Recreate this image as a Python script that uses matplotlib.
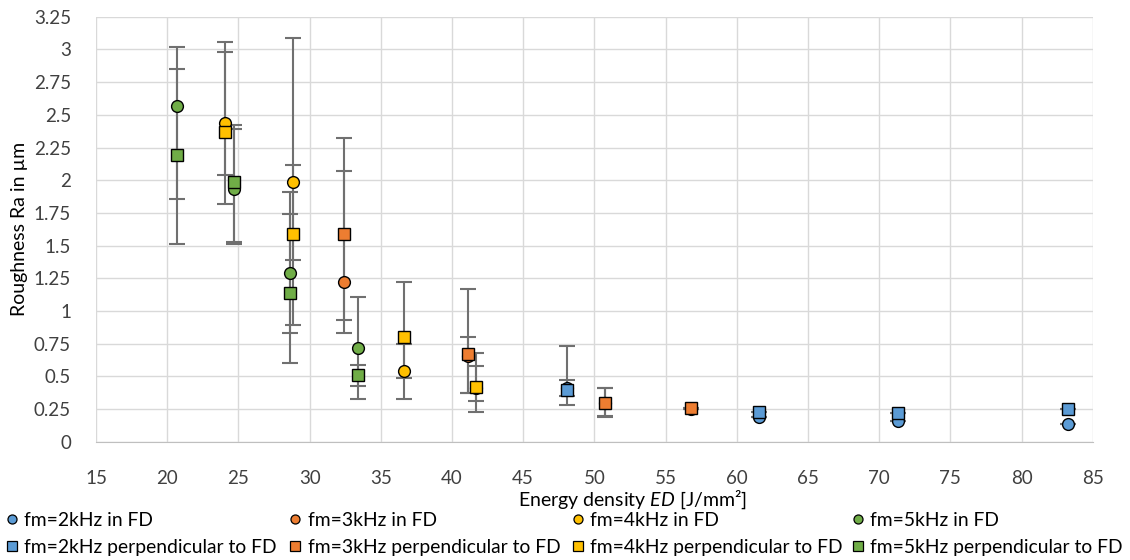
import numpy as np
from matplotlib import pyplot as plt
from matplotlib.lines import Line2D
from matplotlib.ticker import FuncFormatter, MultipleLocator

plt.rcParams["font.family"] = ["Lato", "DejaVu Sans"]
plt.rcParams["mathtext.fontset"] = "custom"
plt.rcParams["mathtext.it"] = "Lato:italic"
plt.rcParams["mathtext.rm"] = "Lato"

# x = energy density, y = Ra, lo/hi = ends of the error bars
x_2k = [48.06, 61.59, 71.3, 83.29]
y_2k_fd = [0.41, 0.19, 0.16, 0.14]
lo_2k_fd = [0.35, 0.19, 0.16, 0.14]
hi_2k_fd = [0.47, 0.19, 0.16, 0.14]
y_2k_perp = [0.40, 0.23, 0.22, 0.25]
lo_2k_perp = [0.28, 0.23, 0.22, 0.25]
hi_2k_perp = [0.73, 0.23, 0.22, 0.25]

x_3k = [32.44, 41.11, 50.77, 56.77]
y_3k_fd = [1.225, 0.66, 0.30, 0.25]
lo_3k_fd = [0.93, 0.37, 0.19, 0.25]
hi_3k_fd = [2.07, 0.805, 0.41, 0.25]
y_3k_perp = [1.59, 0.673, 0.30, 0.26]
lo_3k_perp = [0.83, 0.37, 0.20, 0.26]
hi_3k_perp = [2.32, 1.17, 0.415, 0.26]

x_4k = [24.07, 28.86, 36.66, 41.69]
y_4k_fd = [2.44, 1.985, 0.54, 0.41]
lo_4k_fd = [1.82, 0.89, 0.33, 0.31]
hi_4k_fd = [3.06, 3.09, 0.75, 0.58]
y_4k_perp = [2.37, 1.59, 0.80, 0.418]
lo_4k_perp = [2.04, 1.39, 0.49, 0.227]
hi_4k_perp = [2.98, 2.12, 1.225, 0.678]

x_5k = [20.72, 24.72, 28.63, 33.43]
y_5k_fd = [2.57, 1.93, 1.29, 0.72]
lo_5k_fd = [1.86, 1.51, 0.60, 0.33]
hi_5k_fd = [3.02, 2.39, 1.91, 1.11]
y_5k_perp = [2.19, 1.99, 1.14, 0.51]
lo_5k_perp = [1.51, 1.53, 0.83, 0.43]
hi_5k_perp = [2.85, 2.42, 1.74, 0.59]

series = [
    ("fm=2kHz in FD", x_2k, y_2k_fd, lo_2k_fd, hi_2k_fd, "#5B9BD5", "o"),
    ("fm=2kHz perpendicular to FD", x_2k, y_2k_perp, lo_2k_perp, hi_2k_perp, "#5B9BD5", "s"),
    ("fm=3kHz in FD", x_3k, y_3k_fd, lo_3k_fd, hi_3k_fd, "#ED7D31", "o"),
    ("fm=3kHz perpendicular to FD", x_3k, y_3k_perp, lo_3k_perp, hi_3k_perp, "#ED7D31", "s"),
    ("fm=4kHz in FD", x_4k, y_4k_fd, lo_4k_fd, hi_4k_fd, "#FFC000", "o"),
    ("fm=4kHz perpendicular to FD", x_4k, y_4k_perp, lo_4k_perp, hi_4k_perp, "#FFC000", "s"),
    ("fm=5kHz in FD", x_5k, y_5k_fd, lo_5k_fd, hi_5k_fd, "#70AD47", "o"),
    ("fm=5kHz perpendicular to FD", x_5k, y_5k_perp, lo_5k_perp, hi_5k_perp, "#70AD47", "s"),
]

fig = plt.figure(figsize=(11.3, 5.6), dpi=100)
ax = fig.add_axes([0.085, 0.211, 0.882, 0.759])

handles = []
for label, xs, ys, lo, hi, col, mk in series:
    ys = np.array(ys)
    yerr = [ys - np.array(lo), np.array(hi) - ys]
    ax.errorbar(xs, ys, yerr=yerr, fmt="none", ecolor="#707070",
                elinewidth=1.5, capsize=6, capthick=1.5, zorder=2)
for label, xs, ys, lo, hi, col, mk in series:
    ax.plot(xs, ys, linestyle="none", marker=mk, markersize=8.5,
            markerfacecolor=col, markeredgecolor="black",
            markeredgewidth=1.0, zorder=3)
    handles.append(Line2D([], [], linestyle="none", marker=mk, markersize=6.5,
                          markerfacecolor=col, markeredgecolor="black",
                          markeredgewidth=0.9, label=label))

ax.set_xlim(15, 85)
ax.set_ylim(0, 3.25)
ax.xaxis.set_major_locator(MultipleLocator(5))
ax.yaxis.set_major_locator(MultipleLocator(0.25))
ax.yaxis.set_major_formatter(FuncFormatter(lambda v, p: f"{v:g}"))
ax.grid(True, color="#d9d9d9", linewidth=1.0, zorder=0)
ax.set_axisbelow(True)
for s in ["top", "right", "left"]:
    ax.spines[s].set_visible(False)
ax.spines["bottom"].set_color("#bfbfbf")
ax.tick_params(length=0, labelsize=13.5, colors="#404040")
ax.tick_params(axis="y", pad=18)
ax.tick_params(axis="x", pad=20)

ax.set_xlabel("Energy density $\\mathit{ED}$ [J/mm²]", fontsize=14)
ax.xaxis.set_label_coords(0.538, -0.136)
ax.xaxis.label.set_verticalalignment("center")
ax.set_ylabel("Roughness Ra in µm", fontsize=14)
ax.yaxis.set_label_coords(-0.068, 0.5)

# one small legend per column, at the column positions of the reference
col_x = [0.0053, 0.256, 0.506, 0.754]
for i, cx in enumerate(col_x):
    fig.legend(handles=handles[2 * i:2 * i + 2], loc="upper left",
               bbox_to_anchor=(cx, 0.0865), frameon=False, fontsize=13.9,
               handlelength=0.6, handletextpad=0.35, labelspacing=0.55,
               borderaxespad=0.0, borderpad=0.0)

fig.savefig("out.png", dpi=100)
